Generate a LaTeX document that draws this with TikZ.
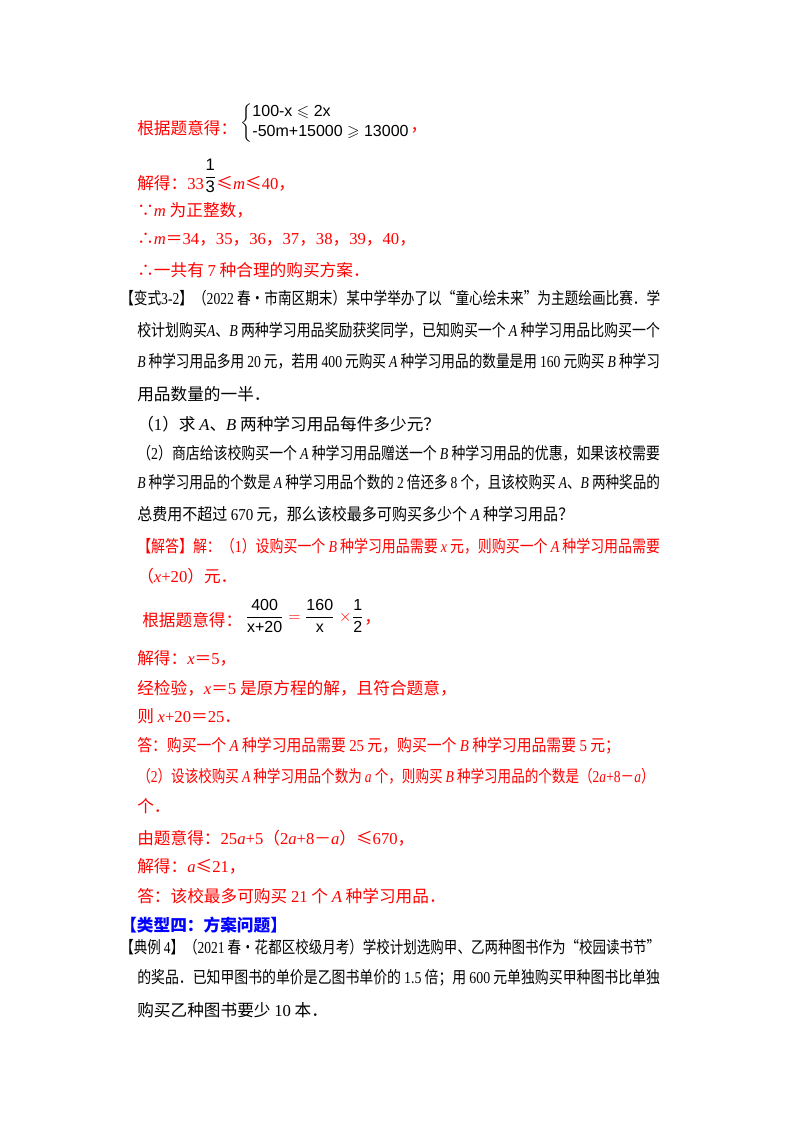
\documentclass[tikz,border=0pt]{standalone}
\usepackage{amsmath,amssymb,graphicx}
\usepackage{fontspec}
\setmainfont{Noto Sans CJK SC}
\newfontfamily\ls{Liberation Serif}
\newfontfamily\lsans{Liberation Sans}
\newcommand{\vi}[1]{{\ls\itshape #1}}
\newcommand{\vn}[1]{{\ls #1}}
\newcommand{\fitw}[2]{\resizebox{#1}{\height}{#2}}
\definecolor{ansred}{RGB}{255,0,0}
\definecolor{hblue}{RGB}{0,0,255}
\begin{document}
\begin{tikzpicture}[x=0.75pt,y=-0.75pt,
  every node/.style={anchor=west,inner sep=0pt,font=\fontsize{12.5}{15}\selectfont},
  ans/.style={text=ansred},
  q/.style={text=black}]
\useasboundingbox (0,0) rectangle (800,1132);
\node[ans] (l1) at (137,128) {根据题意得：};
\node[q,font=\lsans\fontsize{12}{14}\selectfont] (sys) at (l1.east) [xshift=2pt,yshift=4pt] {$\left\{\begin{array}{@{}l@{}}\text{100-x}\leqslant\text{2x}\\[1pt] \text{-50m+15000}\geqslant\text{13000}\end{array}\right.$};
\node[ans] at (sys.east) [yshift=-6pt] {，};
\node[ans] (l2) at (137,176) {解得：\vn{33}\textcolor{black}{\raisebox{6pt}{\lsans$\dfrac{\text{1}}{\text{3}}$}}≤\vi{m}≤\vn{40}，};
\node[ans] at (137,210) {∵\vi{m} 为正整数，};
\node[ans] at (137,240) {∴\vi{m}＝\vn{34}，\vn{35}，\vn{36}，\vn{37}，\vn{38}，\vn{39}，\vn{40}，};
\node[ans] at (137,270) {∴一共有 \vn{7} 种合理的购买方案．};
\node[q] at (120,298) {\fitw{405pt}{【变式\vn{3-2}】（\vn{2022} 春\textbullet 市南区期末）某中学举办了以“童心绘未来”为主题绘画比赛．学}};
\node[q] at (137,330) {\fitw{392pt}{校计划购买\vi{A}、\vi{B} 两种学习用品奖励获奖同学，已知购买一个 \vi{A} 种学习用品比购买一个}};
\node[q] at (137,361) {\fitw{392pt}{\vi{B} 种学习用品多用 \vn{20} 元，若用 \vn{400} 元购买 \vi{A} 种学习用品的数量是用 \vn{160} 元购买 \vi{B} 种学习}};
\node[q] at (137,394) {用品数量的一半．};
\node[q] at (137,424) {（\vn{1}）求 \vi{A}、\vi{B} 两种学习用品每件多少元？};
\node[q] at (137,453) {\fitw{392pt}{（\vn{2}）商店给该校购买一个 \vi{A} 种学习用品赠送一个 \vi{B} 种学习用品的优惠，如果该校需要}};
\node[q] at (137,482) {\fitw{392pt}{\vi{B} 种学习用品的个数是 \vi{A} 种学习用品个数的 \vn{2} 倍还多 \vn{8} 个，且该校购买 \vi{A}、\vi{B} 两种奖品的}};
\node[q] at (137,514) {\fitw{327pt}{总费用不超过 \vn{670} 元，那么该校最多可购买多少个 \vi{A} 种学习用品？}};
\node[ans] at (137,546) {\fitw{392pt}{【解答】解：（\vn{1}）设购买一个 \vi{B} 种学习用品需要 \vi{x} 元，则购买一个 \vi{A} 种学习用品需要}};
\node[ans] at (137,576) {（\vi{x}\vn{+20}）元．};
\node[ans] (l3) at (142,620) {根据题意得：};
\node[q,font=\lsans\fontsize{12}{14}\selectfont] (fr) at (l3.east) [xshift=2pt,yshift=3pt] {$\dfrac{\text{400}}{\text{x+20}}\;\textcolor{ansred}{=}\;\dfrac{\text{160}}{\text{x}}\;\textcolor{ansred}{\times}\dfrac{\text{1}}{\text{2}}$};
\node[ans] at (fr.east) [yshift=-5pt] {，};
\node[ans] at (137,658) {解得：\vi{x}＝\vn{5}，};
\node[ans] at (137,688) {经检验，\vi{x}＝\vn{5} 是原方程的解，且符合题意，};
\node[ans] at (137,716) {则 \vi{x}\vn{+20}＝\vn{25}．};
\node[ans] at (137,746) {\fitw{362pt}{答：购买一个 \vi{A} 种学习用品需要 \vn{25} 元，购买一个 \vi{B} 种学习用品需要 \vn{5} 元；}};
\node[ans] at (137,776) {\fitw{388pt}{（\vn{2}）设该校购买 \vi{A} 种学习用品个数为 \vi{a} 个，则购买 \vi{B} 种学习用品的个数是（\vn{2}\vi{a}\vn{+8}－\vi{a}）}};
\node[ans] at (137,806) {个．};
\node[ans] at (137,838) {由题意得：\vn{25}\vi{a}\vn{+5}（\vn{2}\vi{a}\vn{+8}－\vi{a}）≤\vn{670}，};
\node[ans] at (137,866) {解得：\vi{a}≤\vn{21}，};
\node[ans] at (137,896) {答：该校最多可购买 \vn{21} 个 \vi{A} 种学习用品．};
\node[text=hblue,font=\bfseries\fontsize{12.5}{15}\selectfont] at (120,925) {【类型四：方案问题】};
\node[q] at (120,947) {\fitw{405pt}{【典例 \vn{4}】（\vn{2021} 春\textbullet 花都区校级月考）学校计划选购甲、乙两种图书作为“校园读书节”}};
\node[q] at (137,978) {\fitw{392pt}{的奖品．已知甲图书的单价是乙图书单价的 \vn{1.5} 倍；用 \vn{600} 元单独购买甲种图书比单独}};
\node[q] at (137,1010) {购买乙种图书要少 \vn{10} 本．};
\end{tikzpicture}
\end{document}
